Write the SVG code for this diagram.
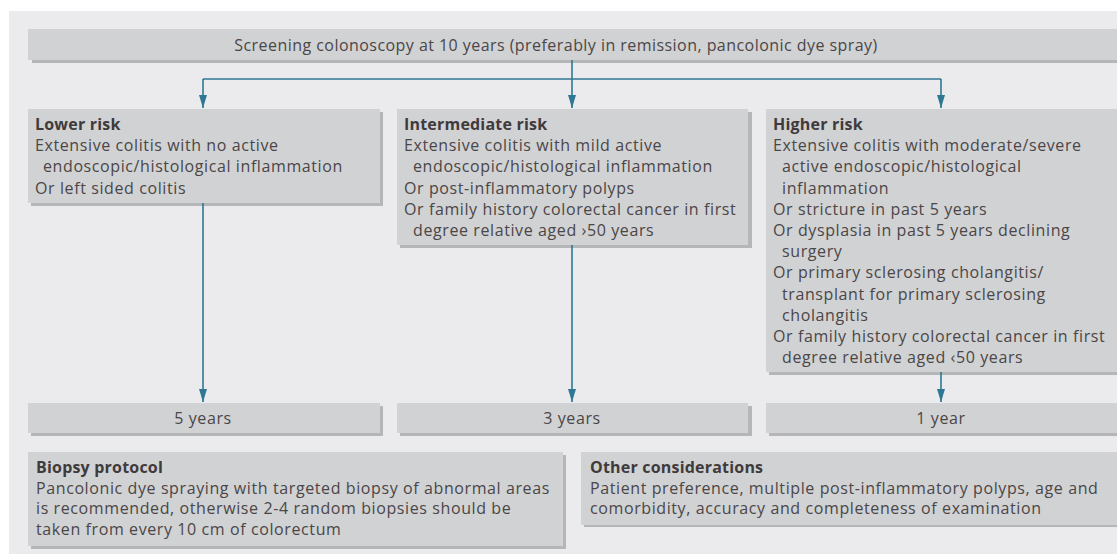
<svg xmlns="http://www.w3.org/2000/svg" width="1117" height="555" viewBox="0 0 1117 555">
  <defs>
    <!-- downward arrowhead; every connector ends pointing down -->
    <marker id="arrow" markerUnits="userSpaceOnUse" markerWidth="8" markerHeight="13" refX="4" refY="13" orient="0" viewBox="0 0 8 13">
      <path d="M0,0 L8,0 L4,13 Z" fill="#2f7893"/>
    </marker>
  </defs>
  <style>
    .panel { fill: #ebebed; }
    .box { fill: #d1d2d4; }
    .shadow { fill: #b5b6b8; }
    .t { font-family: "Open Sans", "Noto Sans", "Liberation Sans", sans-serif; font-size: 16px; letter-spacing: 0.6px; fill: #4b4647; }
    .b { font-weight: bold; letter-spacing: 0.2px; fill: #3f3a3b; }
    .c { text-anchor: middle; }
    .link { fill: none; stroke: #2f7893; stroke-width: 1.6; }
  </style>

  <rect class="panel" x="9" y="11" width="1108" height="543"/>

  <!-- entry -->
  <g id="screening">
    <rect class="shadow" x="32" y="33" width="1085" height="30"/>
    <rect class="box" x="28" y="29" width="1089" height="31"/>
    <text class="t c" x="556" y="50.5" style="letter-spacing:0.45px">Screening colonoscopy at 10 years (preferably in remission, pancolonic dye spray)</text>
  </g>

  <!-- risk groups -->
  <g id="lower-risk">
    <rect class="shadow" x="31" y="112" width="352" height="94"/>
    <rect class="box" x="28" y="109" width="352" height="94"/>
    <text class="t b" x="35" y="130">Lower risk</text>
    <text class="t" x="35" y="151.2">Extensive colitis with no active</text>
    <text class="t" x="43" y="172.4">endoscopic/histological inflammation</text>
    <text class="t" x="35" y="193.6">Or left sided colitis</text>
  </g>

  <g id="intermediate-risk">
    <rect class="shadow" x="400" y="112" width="352" height="136"/>
    <rect class="box" x="397" y="109" width="351" height="136"/>
    <text class="t b" x="404" y="130">Intermediate risk</text>
    <text class="t" x="404" y="151.2">Extensive colitis with mild active</text>
    <text class="t" x="413" y="172.4">endoscopic/histological inflammation</text>
    <text class="t" x="404" y="193.6">Or post-inflammatory polyps</text>
    <text class="t" x="404" y="214.8">Or family history colorectal cancer in first</text>
    <text class="t" x="413" y="236">degree relative aged ›50 years</text>
  </g>

  <g id="higher-risk">
    <rect class="shadow" x="769" y="112" width="348" height="263"/>
    <rect class="box" x="766" y="109" width="351" height="263"/>
    <text class="t b" x="773" y="130">Higher risk</text>
    <text class="t" x="773" y="151.2">Extensive colitis with moderate/severe</text>
    <text class="t" x="782" y="172.4">active endoscopic/histological</text>
    <text class="t" x="782" y="193.6">inflammation</text>
    <text class="t" x="773" y="214.8">Or stricture in past 5 years</text>
    <text class="t" x="773" y="236">Or dysplasia in past 5 years declining</text>
    <text class="t" x="782" y="257.2">surgery</text>
    <text class="t" x="773" y="278.4">Or primary sclerosing cholangitis/</text>
    <text class="t" x="782" y="299.6">transplant for primary sclerosing</text>
    <text class="t" x="782" y="320.8">cholangitis</text>
    <text class="t" x="773" y="342">Or family history colorectal cancer in first</text>
    <text class="t" x="782" y="363.2">degree relative aged ‹50 years</text>
  </g>

  <!-- surveillance intervals -->
  <g id="interval-5">
    <rect class="shadow" x="31" y="406" width="352" height="30"/>
    <rect class="box" x="28" y="403" width="352" height="30"/>
    <text class="t c" x="203" y="423.5">5 years</text>
  </g>
  <g id="interval-3">
    <rect class="shadow" x="400" y="406" width="352" height="30"/>
    <rect class="box" x="397" y="403" width="351" height="30"/>
    <text class="t c" x="572" y="423.5">3 years</text>
  </g>
  <g id="interval-1">
    <rect class="shadow" x="769" y="406" width="348" height="30"/>
    <rect class="box" x="766" y="403" width="351" height="30"/>
    <text class="t c" x="941" y="423.5">1 year</text>
  </g>

  <!-- notes -->
  <g id="biopsy-protocol">
    <rect class="shadow" x="31" y="455" width="535" height="94"/>
    <rect class="box" x="28" y="452" width="535" height="94"/>
    <text class="t b" x="36" y="473">Biopsy protocol</text>
    <text class="t" x="36" y="493.5">Pancolonic dye spraying with targeted biopsy of abnormal areas</text>
    <text class="t" x="36" y="514">is recommended, otherwise 2-4 random biopsies should be</text>
    <text class="t" x="36" y="534.5">taken from every 10 cm of colorectum</text>
  </g>
  <g id="other-considerations">
    <rect class="shadow" x="584" y="455" width="533" height="72"/>
    <rect class="box" x="581" y="452" width="536" height="73"/>
    <text class="t b" x="590" y="473">Other considerations</text>
    <text class="t" x="590" y="493.5">Patient preference, multiple post-inflammatory polyps, age and</text>
    <text class="t" x="590" y="514">comorbidity, accuracy and completeness of examination</text>
  </g>

  <!-- connectors -->
  <g id="connectors">
    <path class="link" d="M572,60 V79"/>
    <path class="link" d="M203,79 H941"/>
    <path class="link" d="M203,79 V108" marker-end="url(#arrow)"/>
    <path class="link" d="M572,79 V108" marker-end="url(#arrow)"/>
    <path class="link" d="M941,79 V108" marker-end="url(#arrow)"/>
    <path class="link" d="M203,203 V402" marker-end="url(#arrow)"/>
    <path class="link" d="M572,245 V402" marker-end="url(#arrow)"/>
    <path class="link" d="M941,372 V402" marker-end="url(#arrow)"/>
  </g>
</svg>
